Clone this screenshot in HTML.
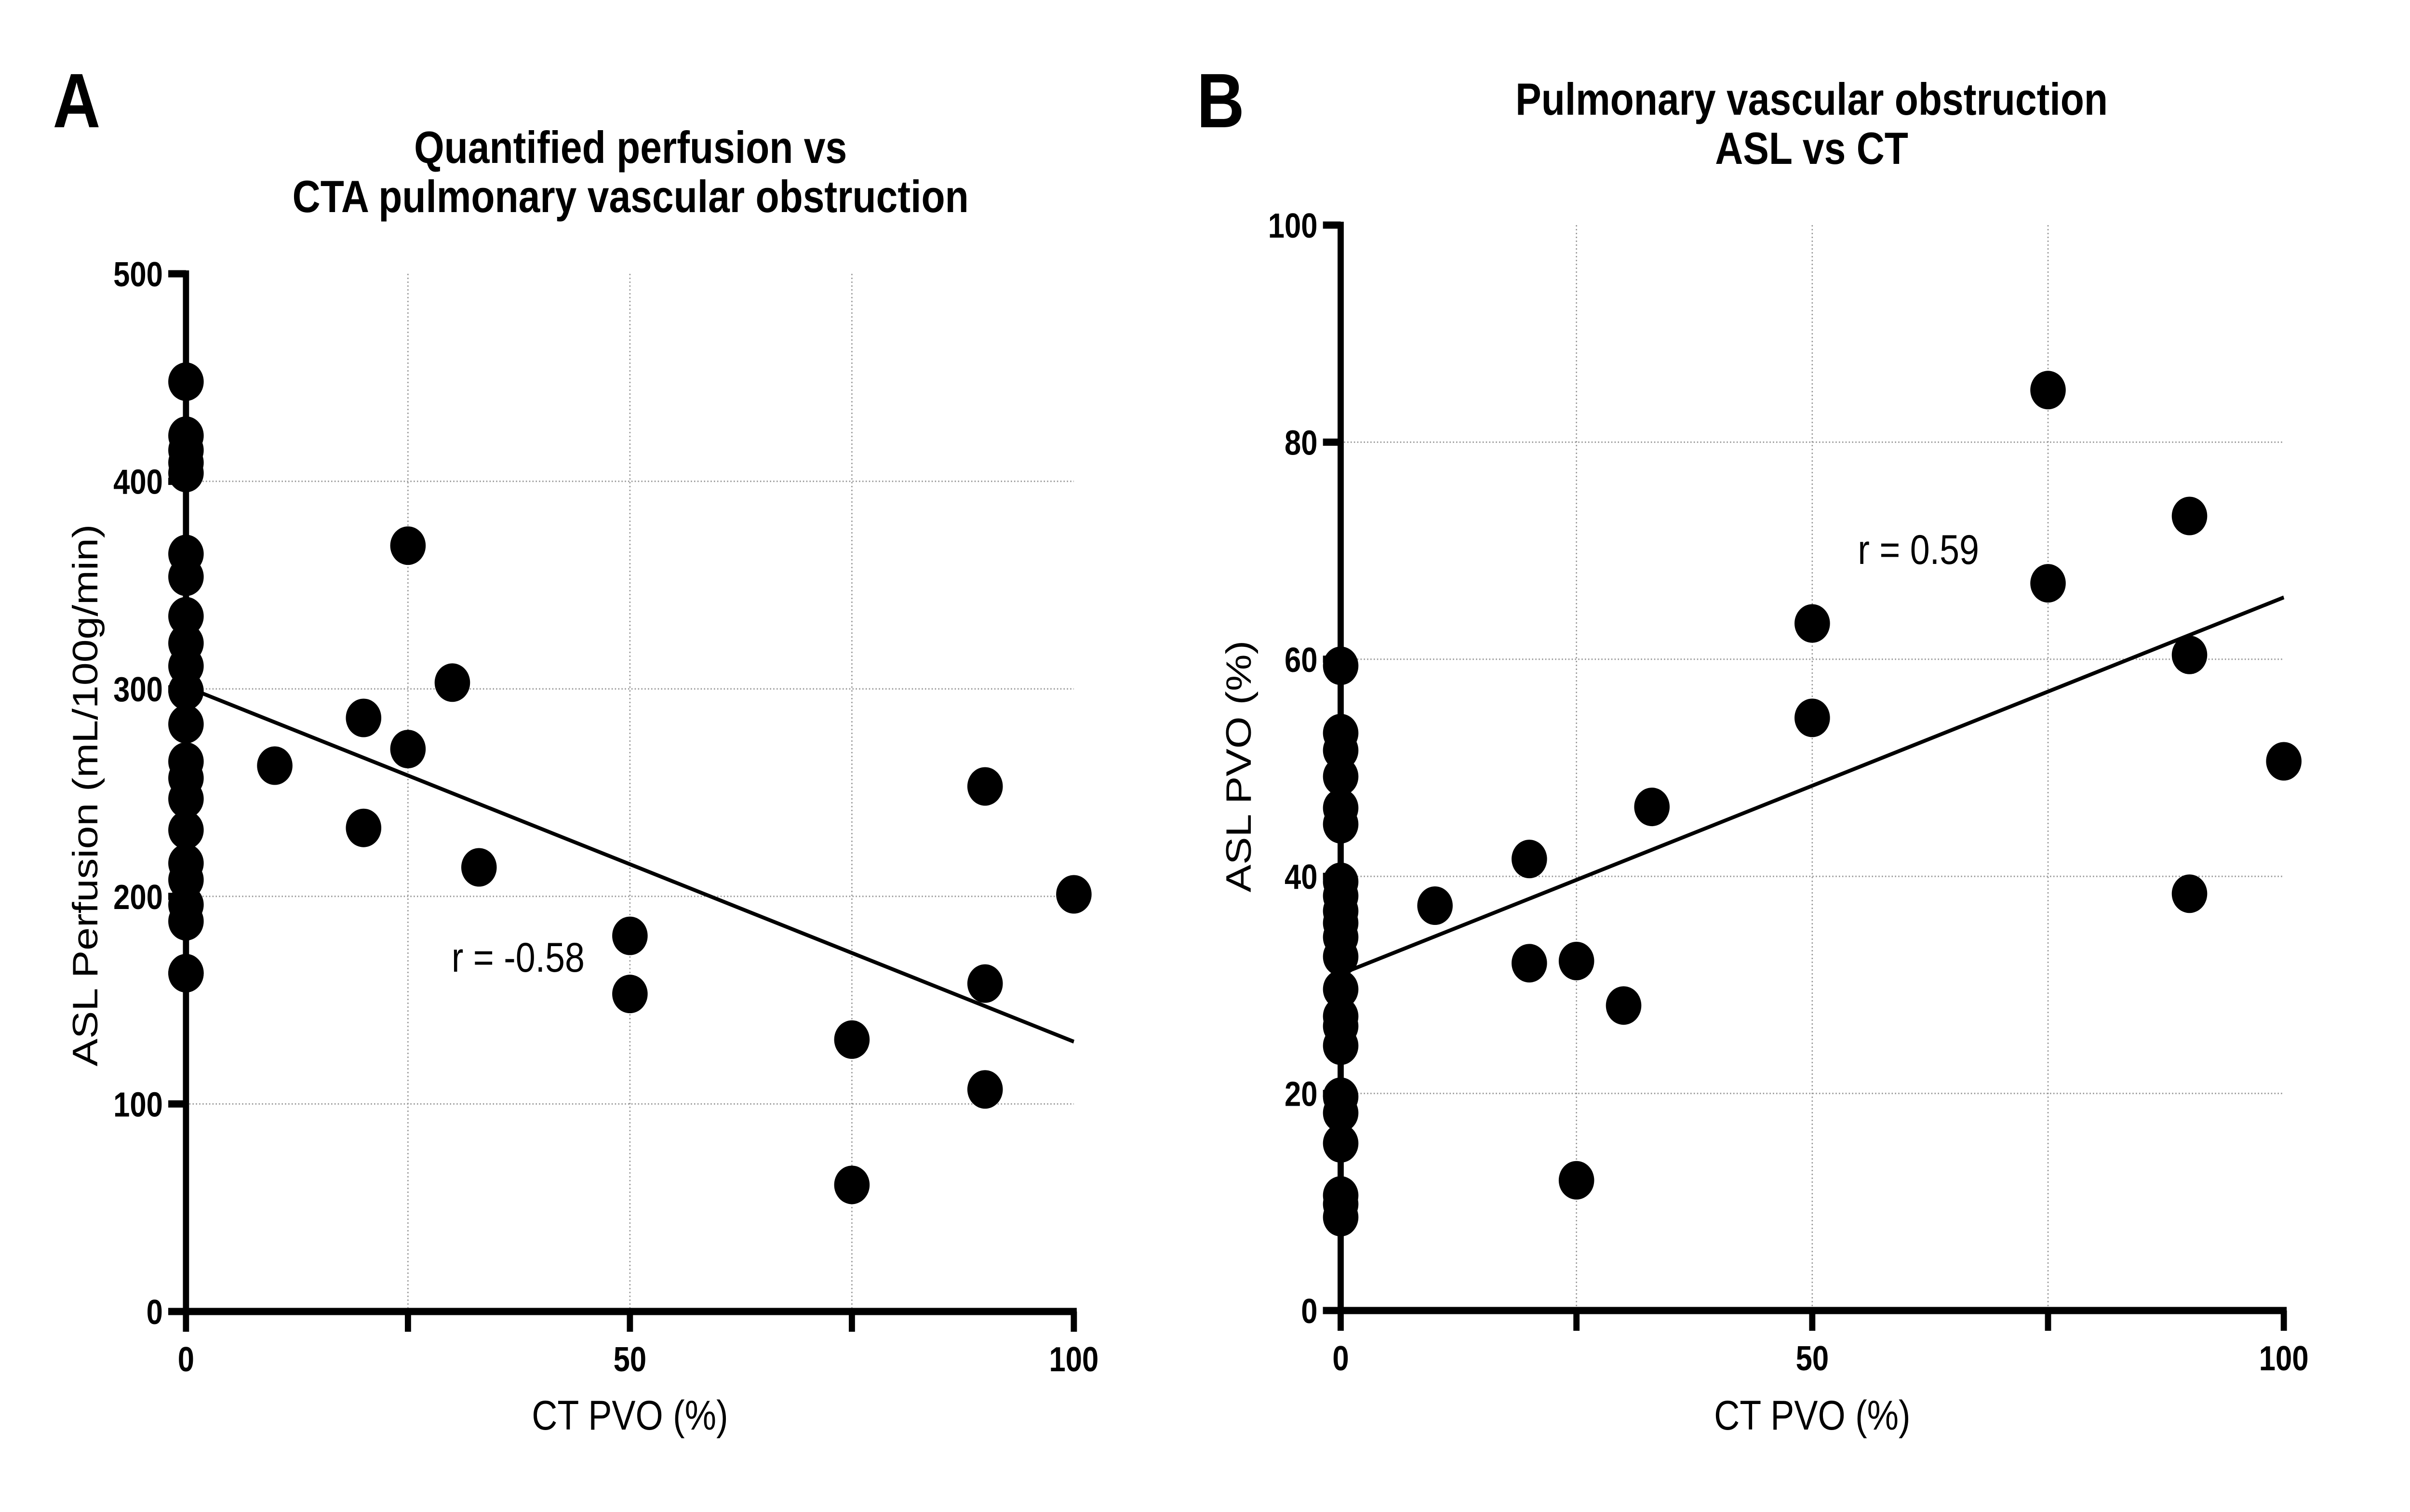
<!DOCTYPE html>
<html><head><meta charset="utf-8">
<style>
html,body{margin:0;padding:0;background:#fff;width:100%;height:100%;overflow:hidden;}
svg{display:block;position:fixed;left:0;top:0;width:100vw;height:100vh;font-family:"Liberation Sans",Arial,sans-serif;}
</style></head>
<body>
<svg id="fig" viewBox="0 0 5844 3137" preserveAspectRatio="none" xmlns="http://www.w3.org/2000/svg">
<rect width="5844" height="3137" fill="#fff"/>
</svg>
<script>
// Panel A data
const aX = [0,0,0,0,0,0,0,0,0,0,0,0,0,0,0,0,0,0,0,0,0,0,10,20,20,25,25,30,33,50,50,75,75,90,90,90,100];
const aY = [448,422,415,409,404,365,354,335,322,311,299,283,265,257,247,232,216,208,196,188,163,163,263,286,233,369,271,303,214,181,153,131,61,253,158,107,201];
const aFit = [301,130];
const aYTicks = [0,100,200,300,400,500];
const aXTicks = [0,50,100];
// Panel B data
const bX = [0,0,0,0,0,0,0,0,0,0,0,0,0,0,0,0,0,0,0,0,0,0,10,20,20,25,25,30,33,50,50,75,75,90,90,90,100];
const bY = [59.4,53.2,51.6,49.2,46.3,44.8,39.5,38.2,36.8,35.7,34.4,32.6,29.6,27.1,26.2,24.4,19.7,18.2,15.4,10.6,9.8,8.6,37.3,41.6,32.0,32.2,12.0,28.1,46.4,63.3,54.6,84.8,67.0,73.2,60.4,38.4,50.6];
const bFit = [31,65.7];
const bYTicks = [0,20,40,60,80,100];
const bXTicks = [0,50,100];

const NS="http://www.w3.org/2000/svg";
const svg=document.getElementById('fig');
function mk(tag,attrs,parent,text){const e=document.createElementNS(NS,tag);for(const k in attrs)e.setAttribute(k,attrs[k]);if(text!==undefined)e.textContent=text;(parent||svg).appendChild(e);return e;}

function panel(cfg){
  const g=mk('g',{});
  
  
  const sx=v=>cfg.x0+(cfg.x1-cfg.x0)*v/100;
  const sy=v=>cfg.y0+(cfg.y1-cfg.y0)*v/cfg.ymax;
  [25,50,75].forEach(v=>{const l=mk('line',{x1:sx(v),x2:sx(v),y1:cfg.y1,y2:cfg.y0,stroke:'#999','stroke-width':3,'stroke-dasharray':'3 5'},g);
    });
  cfg.yTicks.forEach(v=>{if(v===0||v===cfg.ymax)return;const l=mk('line',{x1:cfg.x0,x2:cfg.x1,y1:sy(v),y2:sy(v),stroke:'#999','stroke-width':3,'stroke-dasharray':'3 5'},g);
    });
  const ya=mk('line',{x1:cfg.x0,x2:cfg.x0,y1:cfg.y1-7,y2:cfg.y0+42,stroke:'#000','stroke-width':15},g);
  
  const xa=mk('line',{x1:cfg.x0-43,x2:cfg.x1+7,y1:cfg.y0,y2:cfg.y0,stroke:'#000','stroke-width':15},g);
  
  cfg.yTicks.forEach(v=>{
    const t=mk('line',{x1:cfg.x0-43,x2:cfg.x0,y1:sy(v),y2:sy(v),stroke:'#000','stroke-width':15},g);
    
    const tx=mk('text',{x:cfg.x0-56,y:sy(v)+26,'text-anchor':'end','font-size':72,'font-weight':'bold'},g,String(v));
    
  });
  [25,50,75,100].forEach(v=>{
    const t=mk('line',{x1:sx(v),x2:sx(v),y1:cfg.y0,y2:cfg.y0+42,stroke:'#000','stroke-width':15},g);
    
  });
  cfg.xTicks.forEach(v=>{
    const tx=mk('text',{x:sx(v),y:cfg.y0+124,'text-anchor':'middle','font-size':72,'font-weight':'bold'},g,String(v));
    
  });
  cfg.xs.forEach((v,i)=>{
    const c=mk('ellipse',{cx:sx(v),cy:sy(cfg.ys[i]),rx:43,ry:40,fill:'#000'},g);
    
  });
  const fl=mk('line',{x1:sx(0),y1:sy(cfg.fit[0]),x2:sx(100),y2:sy(cfg.fit[1]),stroke:'#000','stroke-width':8},g);
  
  const L=mk('text',{x:cfg.letterX,y:264,'font-size':160,'font-weight':'bold'},g,cfg.letter);
  
  cfg.title.forEach((s,i)=>{const t=mk('text',{x:cfg.titleX,y:cfg.titleY+i*102,'text-anchor':'middle','font-size':94,'font-weight':'bold'},g,s);
    });
  const xt=mk('text',{x:(cfg.x0+cfg.x1)/2,y:2966,'text-anchor':'middle','font-size':86},g,'CT PVO (%)');
  
  const yt=mk('text',{x:0,y:0,'text-anchor':'middle','font-size':86,transform:`translate(${cfg.ytX},${cfg.ytY}) rotate(-90)`},g,cfg.ytitle);
  
  const r=mk('text',{x:cfg.rX,y:cfg.rY,'font-size':86},g,cfg.rText);
  
}

panel({id:'a',x0:451,x1:2604,y0:2721,y1:568,ymax:500,xs:aX,ys:aY,fit:aFit,yTicks:aYTicks,xTicks:aXTicks,
  letter:'A',letterX:128,title:['Quantified perfusion vs','CTA pulmonary vascular obstruction'],titleX:1529,titleY:338,
  ytitle:'ASL Perfusion (mL/100g/min)',ytX:236,ytY:1650,rX:1095,rY:2016,rText:'r = -0.58'});
panel({id:'b',x0:3251,x1:5538,y0:2719,y1:467,ymax:100,xs:bX,ys:bY,fit:bFit,yTicks:bYTicks,xTicks:bXTicks,
  letter:'B',letterX:2902,title:['Pulmonary vascular obstruction','ASL vs  CT'],titleX:4393,titleY:238,
  ytitle:'ASL PVO  (%)',ytX:3033,ytY:1590,rX:4505,rY:1170,rText:'r = 0.59'});
</script>
</body></html>
